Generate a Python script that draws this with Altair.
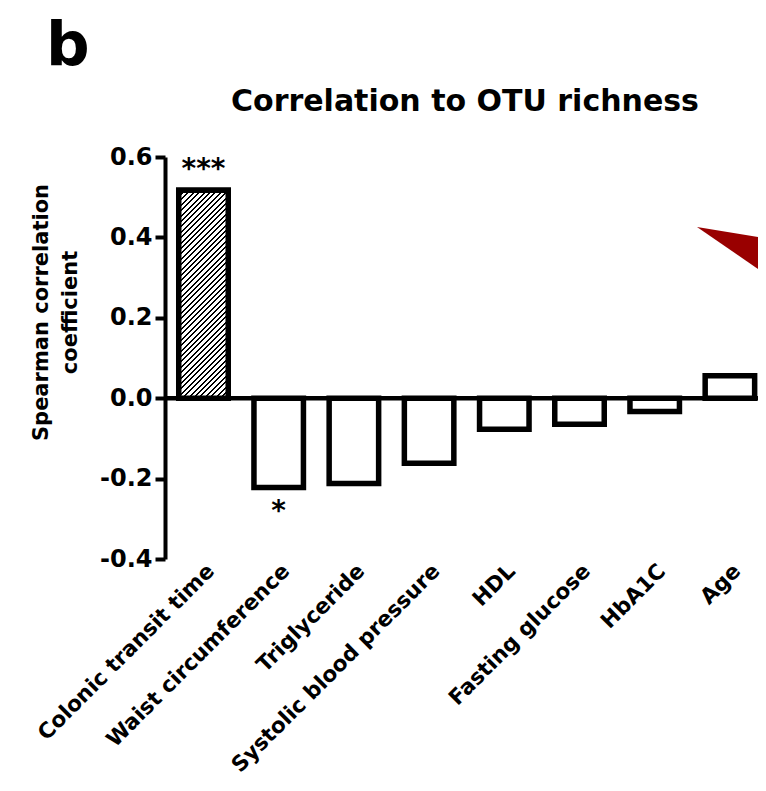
import altair as alt
import pandas as pd

# ---- data ----
CATEGORIES = [
    "Colonic transit time",
    "Waist circumference",
    "Triglyceride",
    "Systolic blood pressure",
    "HDL",
    "Fasting glucose",
    "HbA1C",
    "Age",
]
RHO = [0.517, -0.222, -0.212, -0.162, -0.077, -0.065, -0.033, 0.056]
SIGNIF = ["***", "*", "", "", "", "", "", ""]
HATCHED = [True, False, False, False, False, False, False, False]
Y_TICKS = [-0.4, -0.2, 0.0, 0.2, 0.4, 0.6]
Y_DOMAIN = [-0.4, 0.6]
TITLE = "Correlation to OTU richness"
PANEL = "b"
Y_TITLE = ["Spearman correlation", "coefficient"]

FONT = "DejaVu Sans"
W, H = 593, 402
P_IN, P_OUT, ALIGN = 0.342, 0.1137, 0.804
STEP = W / (len(CATEGORIES) - P_IN + 2 * P_OUT)

df = pd.DataFrame({"cat": CATEGORIES, "rho": RHO, "sig": SIGNIF, "hatch": HATCHED})

xenc = alt.X(
    "cat:N",
    sort=CATEGORIES,
    scale=alt.Scale(paddingInner=P_IN, paddingOuter=P_OUT, align=ALIGN),
    axis=alt.Axis(
        title=None, domain=False, ticks=False, grid=False, labelAngle=-45,
        labelFont=FONT, labelFontSize=21.5, labelFontWeight="bold",
        labelColor="black", labelPadding=1, labelLimit=0,
        labelOverlap=False, labelBound=False,
    ),
)
yenc = alt.Y(
    "rho:Q",
    scale=alt.Scale(domain=Y_DOMAIN, nice=False, zero=False),
    axis=alt.Axis(
        values=Y_TICKS, grid=False, title=Y_TITLE,
        labelExpr="(datum.value < -0.0001 ? '-' : '') + format(abs(datum.value), '.1f')",
        labelFont=FONT, labelFontSize=24, labelFontWeight="bold", labelColor="black",
        labelPadding=3, tickSize=10, tickWidth=4, tickColor="black",
        domainWidth=4, domainColor="black",
        titleFont=FONT, titleFontSize=21, titleFontWeight="bold", titleColor="black",
        titleAngle=-90, titleAlign="center", titleBaseline="middle",
        titleLineHeight=29, titleX=-124, titleY=155,
    ),
)

base = alt.Chart(df)

bars = base.mark_bar(fill="white", stroke="black", strokeWidth=5.5).encode(
    x=xenc, y=yenc, y2=alt.datum(0)
)

# hatch pattern emulated with a striped linear gradient in the bar's box
bw = STEP * (1 - P_IN)
bh = RHO[0] * H / (Y_DOMAIN[1] - Y_DOMAIN[0])
tot = bw + bh
c = tot / (bw * bw + bh * bh)
period = 5.4
line = 1.9
stops = []
k = 0.0
while k < tot:
    a = k / tot
    b = min((k + line) / tot, 1.0)
    e = min((k + period) / tot, 1.0)
    stops += [
        alt.GradientStop(offset=a, color="black"),
        alt.GradientStop(offset=b, color="black"),
        alt.GradientStop(offset=b, color="white"),
        alt.GradientStop(offset=e, color="white"),
    ]
    k += period
grad = alt.LinearGradient(
    gradient="linear", stops=stops, x1=0, y1=0, x2=bw * c, y2=bh * c
)
hatch = base.transform_filter(alt.datum.hatch).mark_bar(
    fill=grad, stroke="black", strokeWidth=5.5
).encode(x=xenc, y=yenc, y2=alt.datum(0))

zero = alt.Chart(pd.DataFrame({"z": [0.0]})).mark_rule(
    color="black", strokeWidth=4.5
).encode(y="z:Q", x=alt.value(0), x2=alt.value(W + 20))

sig_up = base.transform_filter("datum.sig != '' && datum.rho > 0").mark_text(
    font=FONT, fontSize=28, fontWeight="bold", color="black",
    baseline="alphabetic", dy=-12,
).encode(x=xenc, y=yenc, text="sig:N")
sig_dn = base.transform_filter("datum.sig != '' && datum.rho < 0").mark_text(
    font=FONT, fontSize=28, fontWeight="bold", color="black",
    baseline="alphabetic", dy=33,
).encode(x=xenc, y=yenc, text="sig:N")

title = alt.Chart(pd.DataFrame({"t": [TITLE]})).mark_text(
    font=FONT, fontSize=30, fontWeight="bold", color="black",
    align="center", baseline="alphabetic",
).encode(text="t:N", x=alt.value(300), y=alt.value(-46))

panel = alt.Chart(pd.DataFrame({"t": [PANEL]})).mark_text(
    font=FONT, fontSize=61, fontWeight="bold", color="black",
    align="left", baseline="alphabetic",
).encode(text="t:N", x=alt.value(-119), y=alt.value(-92))

arrow = alt.Chart(pd.DataFrame({"t": [1]})).mark_point(
    shape="M0,0L80,13L80,55Z", filled=True, fill="#990000", strokeWidth=0,
    size=4, opacity=1,
).encode(x=alt.value(532), y=alt.value(70))

chart = (
    alt.layer(bars, hatch, zero, sig_up, sig_dn, title, panel, arrow)
    .properties(
        width=W, height=H, background="white",
        autosize=alt.AutoSizeParams(type="none"),
        padding={"left": 157, "top": 149, "right": 0, "bottom": 220},
    )
    .configure_view(stroke="transparent", strokeWidth=0)
    .configure_axis(grid=False)
)

chart.save("out.html", embed_options={"renderer": "svg", "actions": False})
